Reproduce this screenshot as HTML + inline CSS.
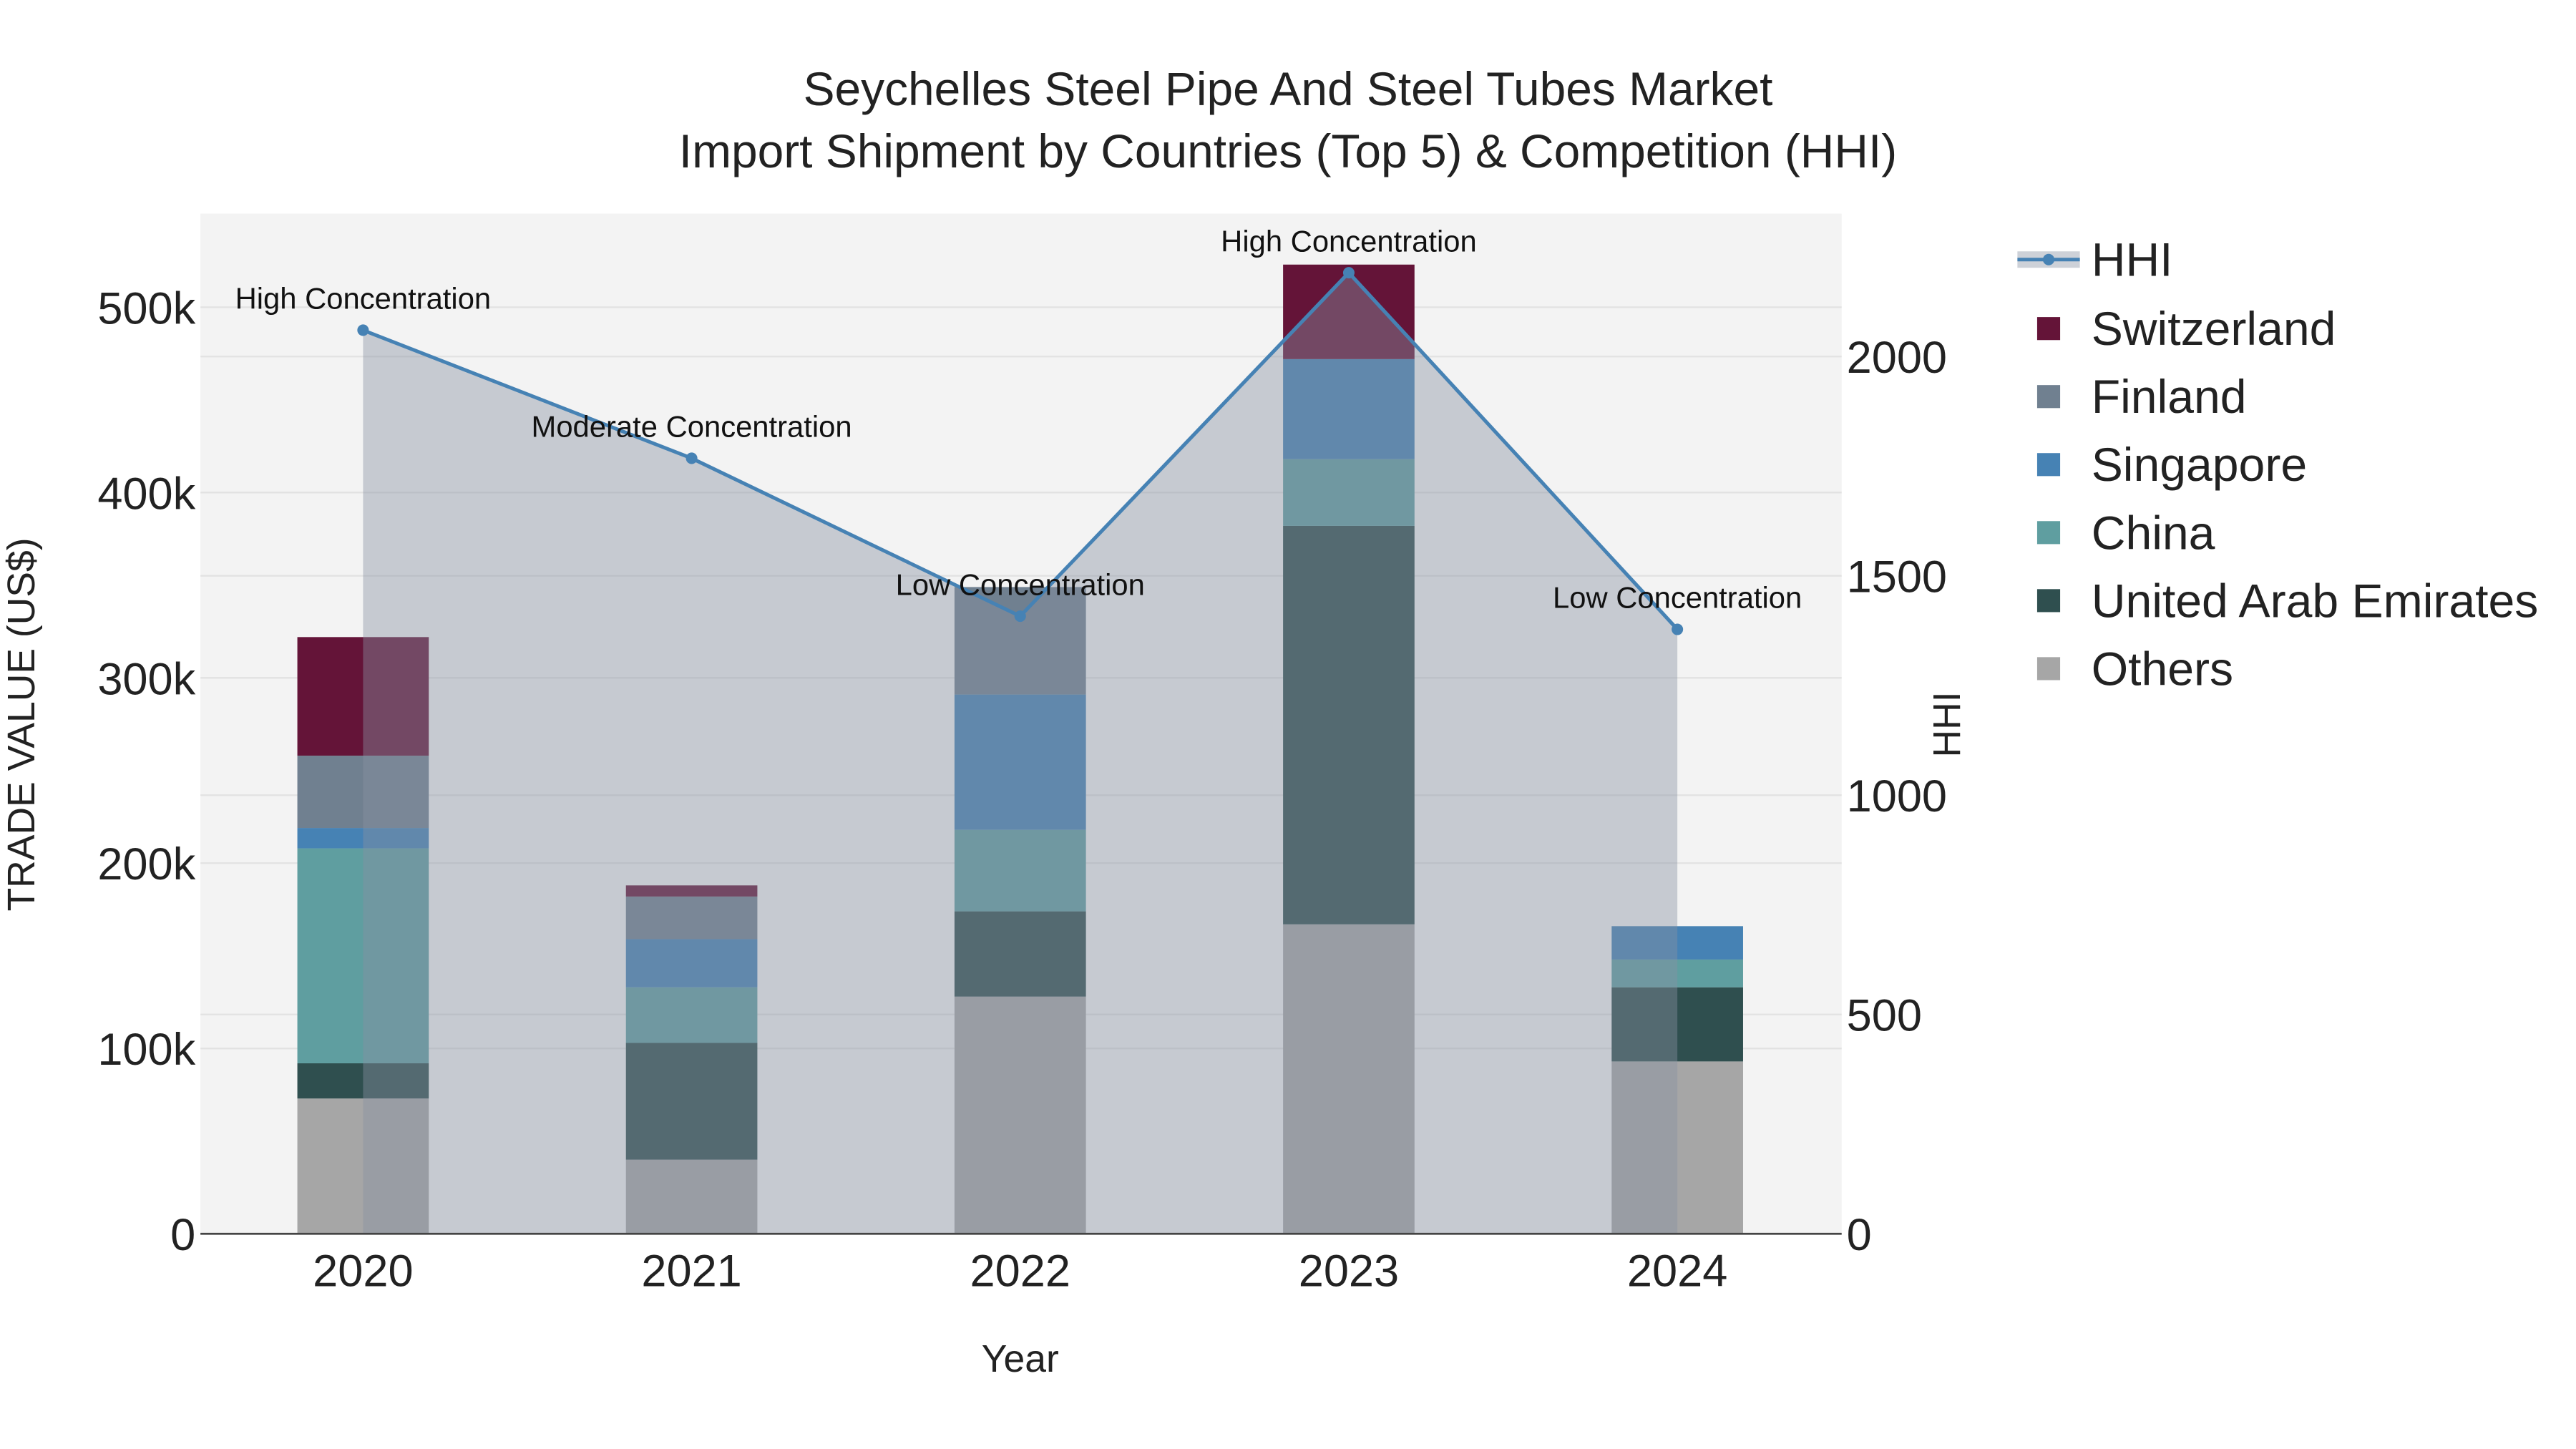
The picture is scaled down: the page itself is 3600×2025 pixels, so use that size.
<!DOCTYPE html>
<html><head><meta charset="utf-8"><style>
html,body{margin:0;padding:0;background:#fff;}
svg{display:block;font-family:"Liberation Sans",sans-serif;}
</style></head><body>
<svg id="chart" width="3600" height="2025" viewBox="0 0 1568 882" xmlns="http://www.w3.org/2000/svg">
<rect width="1568" height="882" fill="#fff"/>
<rect x="122" y="130" width="999" height="621" fill="#f3f3f3"/>
<g id="grid"></g>
<g id="bars"></g>
<g id="area"></g>
<g id="line"></g>
<g id="axes"></g>
<text x="784" y="64" text-anchor="middle" font-size="28.7" fill="#222">Seychelles Steel Pipe And Steel Tubes Market</text>
<text x="784" y="102" text-anchor="middle" font-size="28.7" fill="#222">Import Shipment by Countries (Top 5) &amp; Competition (HHI)</text>
<text transform="translate(21,441) rotate(-90)" text-anchor="middle" font-size="23.3" fill="#222">TRADE VALUE (US$)</text>
<text transform="translate(1193,441) rotate(-90)" text-anchor="middle" font-size="23.3" fill="#222">HHI</text>
<text x="621" y="835" text-anchor="middle" font-size="23.3" fill="#222">Year</text>
<g id="legend"></g>
</svg>
<script>
const years = ['2020','2021','2022','2023','2024'];
const seriesNames = ['Others','United Arab Emirates','China','Singapore','Finland','Switzerland'];
const others = [73000, 40000, 128000, 167000, 93000];
const uae = [19000, 63000, 46000, 215000, 40000];
const china = [116000, 30000, 44000, 36000, 15000];
const singapore = [11000, 26000, 73000, 54000, 18000];
const finland = [39000, 23000, 58000, 0, 0];
const switzerland = [64000, 6000, 0, 51000, 0];
const hhi = [2060, 1768, 1408, 2191, 1378];
const hhiLabels = ['High Concentration','Moderate Concentration','Low Concentration','High Concentration','Low Concentration'];
const leftTicks = [0,100000,200000,300000,400000,500000];
const leftTickLabels = ['0','100k','200k','300k','400k','500k'];
const rightTicks = [0,500,1000,1500,2000];

const colors = {'Others':'#a6a6a6','United Arab Emirates':'#2f4f4f','China':'#5f9ea0','Singapore':'#4682b4','Finland':'#708090','Switzerland':'#641438'};
const seriesData = [others, uae, china, singapore, finland, switzerland];
const NS='http://www.w3.org/2000/svg';
const X0=122,X1=1121,Y0=751,Y1=130;
const x = i => 221 + i*200;
const y = v => Y0 - v/100000*112.8;
const y2 = v => Y0 - v/500*133.5;
function mk(tag, attrs, parent){const e=document.createElementNS(NS,tag);for(const k in attrs)e.setAttribute(k,attrs[k]);parent.appendChild(e);return e;}
const grid=document.getElementById('grid'), bars=document.getElementById('bars'), area=document.getElementById('area'), line=document.getElementById('line'), axes=document.getElementById('axes'), legend=document.getElementById('legend');

leftTicks.forEach((t,i)=>{
  if(t>0){const g=mk('line',{x1:X0,x2:X1,y1:y(t),y2:y(t),stroke:'#e2e2e2','stroke-width':1},grid);
  
  }
  const tx=mk('text',{x:X0-3,y:y(t)+10,'text-anchor':'end','font-size':27.5,fill:'#222'},axes);
  tx.textContent=leftTickLabels[i];
  
  
});
rightTicks.forEach(t=>{
  if(t>0){const g=mk('line',{x1:X0,x2:X1,y1:y2(t),y2:y2(t),stroke:'#e2e2e2','stroke-width':1},grid);
  
  }
  const tx=mk('text',{x:X1+3,y:y2(t)+10,'text-anchor':'start','font-size':27.5,fill:'#222'},axes);
  tx.textContent=String(t);
  
  
});
const ax=mk('line',{x1:X0,x2:X1,y1:Y0,y2:Y0,stroke:'#444','stroke-width':1.2},axes);


years.forEach((yr,i)=>{
  const tx=mk('text',{x:x(i),y:783,'text-anchor':'middle','font-size':27.5,fill:'#222'},axes);
  tx.textContent=yr;
  
  
});

years.forEach((yr,i)=>{
  let base=0;
  seriesData.forEach((arr,s)=>{
    const v=arr[i]; if(!v) return;
    const r=mk('rect',{x:x(i)-40,width:80,y:y(base+v),height:y(base)-y(base+v),fill:colors[seriesNames[s]]},bars);
    
    
    base+=v;
  });
});

let d='M'+x(0)+','+Y0;
hhi.forEach((v,i)=>{d+=' L'+x(i)+','+y2(v);});
d+=' L'+x(hhi.length-1)+','+Y0+' Z';
const ar=mk('path',{d:d,fill:'rgba(135,145,162,0.42)'},area);


const pl=mk('polyline',{points:hhi.map((v,i)=>x(i)+','+y2(v)).join(' '),fill:'none',stroke:'#4682b4','stroke-width':2.2},line);


hhi.forEach((v,i)=>{
  const c=mk('circle',{cx:x(i),cy:y2(v),r:3.5,fill:'#4682b4'},line);
  
  
  const t=mk('text',{x:x(i),y:y2(v)-13,'text-anchor':'middle','font-size':18.2,fill:'#111'},line);
  t.textContent=hhiLabels[i];
  
  
});

const lg1=mk('rect',{x:1228,y:153,width:38,height:10,fill:'rgba(135,145,162,0.42)'},legend);


const lg2=mk('line',{x1:1228,x2:1266,y1:158,y2:158,stroke:'#4682b4','stroke-width':2.2},legend);


const lg3=mk('circle',{cx:1247,cy:158,r:3.5,fill:'#4682b4'},legend);


const lt=mk('text',{x:1273,y:168,'font-size':28.8,fill:'#222'},legend);
lt.textContent='HHI';


const legOrder=['Switzerland','Finland','Singapore','China','United Arab Emirates','Others'];
legOrder.forEach((n,k)=>{
  const cy=200+k*41.4;
  const sw=mk('rect',{x:1240,y:cy-7,width:14,height:14,fill:colors[n]},legend);
  
  
  const t=mk('text',{x:1273,y:cy+10,'font-size':28.8,fill:'#222'},legend);
  t.textContent=n;
  
  
});
</script>
</body></html>
